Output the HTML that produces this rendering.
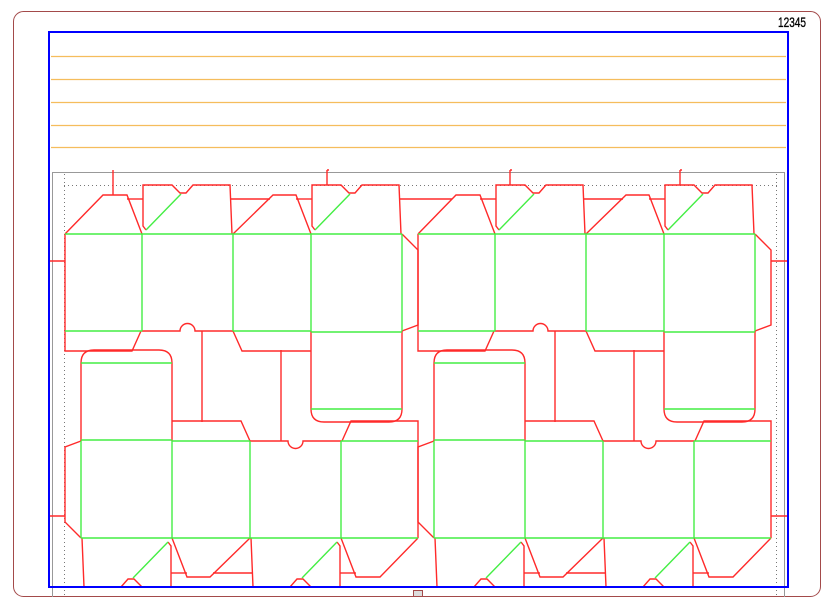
<!DOCTYPE html>
<html><head><meta charset="utf-8"><style>
html,body{margin:0;padding:0;background:#fff;}
svg{display:block;}
</style></head><body>
<svg width="833" height="604" viewBox="0 0 833 604" xmlns="http://www.w3.org/2000/svg">
<defs>
<clipPath id="c"><rect x="0" y="0" width="833" height="587"/></clipPath>
<g id="box" fill="none" stroke-linejoin="miter">
  <g stroke="#ff2a2a" stroke-width="1.4">
    <path d="M65,234 L103,195 L127,195 L142,234"/>
    <path d="M65,234 V351 H132 L141,331"/>
    <path d="M127,199 H143"/>
    <path d="M146,230 L143,226 V185 H172 L180,193 H186 L193,185 H230 L232,234"/>
    <path d="M230,199 H270"/>
    <path d="M233,234 L273,195 H296 L311,234"/>
    <path d="M296,199 H312"/>
    <path d="M315,230 L312,226 V185 H341 L349,193 H355 L362,185 H399 L401,234"/>
    <path d="M402,234 L418,250 V325 L402,331"/>
    <path d="M142,331 H180 A7.5,7.5 0 0 1 195,331 H233"/>
    <path d="M202,331 V422"/>
    <path d="M233,331 L242,351 H311"/>
    <path d="M311,331 V409 Q311,422 324,422 H389 Q402,422 402,409 V331"/>
  </g>
  <g stroke="#44ee44" stroke-width="1.4">
    <path d="M146,230 L181,194"/>
    <path d="M315,230 L350,194"/>
    <path d="M65,234 H402"/>
    <path d="M65,331 H142 M233,331 H311 M311,332 H402"/>
    <path d="M142,234 V331 M233,234 V331 M311,234 V331 M402,234 V331"/>
    <path d="M311,409 H402"/>
  </g>
</g>
</defs>

<rect x="13.5" y="11.5" width="807" height="585" rx="10" ry="10" fill="none" stroke="#a34a4a" stroke-width="1"/>
<rect x="413.5" y="590.5" width="9" height="6" fill="#ddd" stroke="#a34a4a" stroke-width="1"/>

<g stroke="#f5bd5c" stroke-width="1.2">
  <line x1="51" y1="56.5" x2="786" y2="56.5"/>
  <line x1="51" y1="79.5" x2="786" y2="79.5"/>
  <line x1="51" y1="102.5" x2="786" y2="102.5"/>
  <line x1="51" y1="125.5" x2="786" y2="125.5"/>
  <line x1="51" y1="147.5" x2="786" y2="147.5"/>
</g>

<path d="M52.5,597 V172.5 H784.5 V597" fill="none" stroke="#999" stroke-width="1"/>
<g stroke="#777" stroke-width="1" stroke-dasharray="1,3">
  <line x1="64" y1="185.5" x2="778" y2="185.5"/>
  <line x1="64.5" y1="174" x2="64.5" y2="596"/>
  <line x1="776.5" y1="174" x2="776.5" y2="596"/>
</g>

<g clip-path="url(#c)">
  <use href="#box"/>
  <use href="#box" transform="matrix(-1,0,0,-1,483,772)"/>
  <use href="#box" transform="translate(353,0)"/>
  <use href="#box" transform="translate(353,0) matrix(-1,0,0,-1,483,772)"/>
  <g stroke="#ff2a2a" stroke-width="1.4" fill="none">
    <path d="M399,199 H452"/>
    <path d="M113,170 V195"/>
    <path d="M327,170 V185 M327,170 H329"/>
    <path d="M510,170 V185 M510,170 H512"/>
    <path d="M680,170 V185 M680,170 H682"/>
    <path d="M50,261 H65 M50,516 H65 M771,261 H788 M771,516 H788"/>
  </g>
</g>

<rect x="49" y="32" width="739" height="555" fill="none" stroke="#0000ff" stroke-width="2"/>

<text x="778" y="27" font-family="'Liberation Sans Narrow','Liberation Sans',sans-serif" font-size="14" textLength="28" lengthAdjust="spacingAndGlyphs" fill="#000" stroke="#000" stroke-width="0.3">12345</text>
</svg>
</body></html>
